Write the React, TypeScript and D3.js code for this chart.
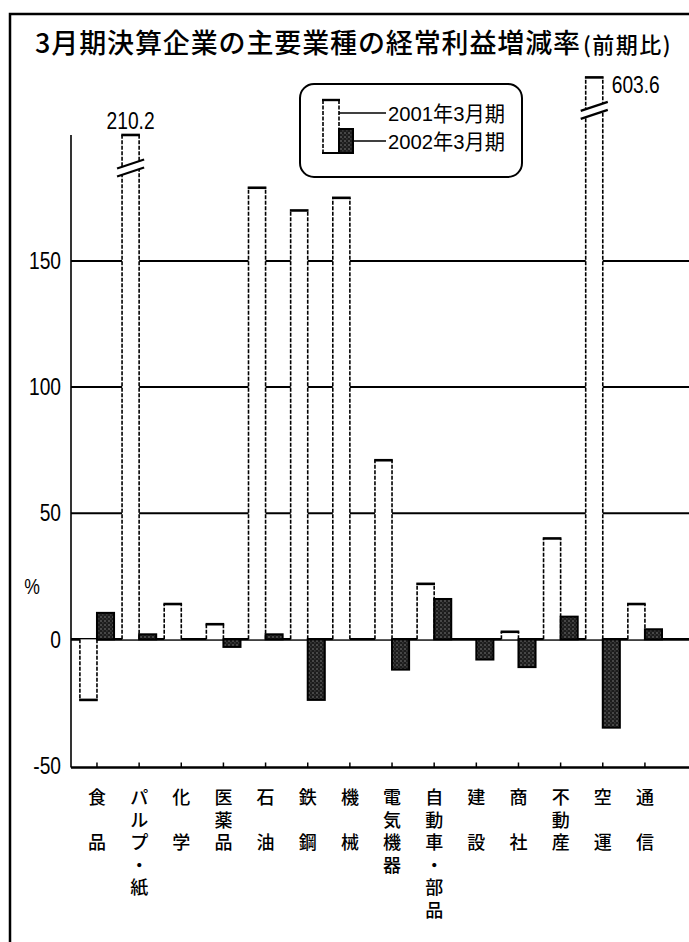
import React from "react";
import * as d3 from "d3";

// Industries (vertical labels along the bottom)
const categories = [
  "食品", "パルプ・紙", "化学", "医薬品", "石油", "鉄鋼", "機械",
  "電気機器", "自動車・部品", "建設", "商社", "不動産", "空運", "通信",
];
const seriesNames = ["2001年3月期", "2002年3月期"];
// Recurring-profit change vs. previous period (%)
const values2001 = [-24, 210.2, 14, 6, 179, 170, 175, 71, 22, 0, 3, 40, 603.6, 14];
const values2002 = [10.5, 2, 0, -3, 2, -24, 0, -12, 16, -8, -11, 9, -35, 4];
const yTickValues = [150, 100, 50, 0, -50];
const gridValues = [150, 100, 50];
const titleMain = "3月期決算企業の主要業種の経常利益増減率";
const titleSub = "(前期比)";
const unitLabel = "%";

const W = 689;
const H = 942;
const NUM_FONT = "'Liberation Sans', 'Noto Sans CJK JP', sans-serif";
const JP_FONT = "'Noto Sans CJK JP', sans-serif";
const NARROW = 0.8;

// Values beyond the break threshold are drawn on a compressed segment
const BREAK_AT = 200;

const x = d3
  .scaleBand<string>()
  .domain(categories)
  .range([75.9, 666])
  .paddingInner(0.19)
  .paddingOuter(0.095);
const xSeries = d3
  .scaleBand<string>()
  .domain(seriesNames)
  .range([0, x.bandwidth()]);

const y = d3
  .scaleLinear()
  .domain([-50, 190, 210, 620])
  .range([765.5, 160, 135, 75]);

const fmt = d3.format(".1f");

function NarrowText({
  x: tx,
  y: ty,
  anchor = "start",
  size = 24,
  baseline,
  children,
}: {
  x: number;
  y: number;
  anchor?: "start" | "middle" | "end";
  size?: number;
  baseline?: string;
  children: React.ReactNode;
}) {
  return (
    <text
      transform={`translate(${tx},${ty}) scale(${NARROW},1)`}
      textAnchor={anchor}
      dominantBaseline={baseline as any}
      fontFamily={NUM_FONT}
      fontSize={size}
    >
      {children}
    </text>
  );
}

function OpenBar({ x0, w, v }: { x0: number; w: number; v: number }) {
  if (v === 0) return null;
  const x1 = x0 + w;
  const yb = y(0);
  const ye = y(v);
  const top = Math.min(yb, ye);
  const h = Math.abs(yb - ye);
  const broken = v > BREAK_AT;
  const bY = ye + 33;
  const ext = 5;
  const half = (w + 2 * ext) / 6;
  return (
    <g>
      <rect x={x0} y={top} width={w} height={h} fill="#fff" />
      <line x1={x0} x2={x0} y1={yb} y2={ye} stroke="#000" strokeWidth={1.6} strokeDasharray="4 1.5" />
      <line x1={x1} x2={x1} y1={yb} y2={ye} stroke="#000" strokeWidth={1.6} strokeDasharray="4 1.5" />
      <line x1={x0 - 0.8} x2={x1 + 0.8} y1={ye} y2={ye} stroke="#000" strokeWidth={2.6} />
      {broken && (
        <g>
          <polygon
            points={[
              [x0 - ext, bY + 4 + half],
              [x1 + ext, bY + 4 - half],
              [x1 + ext, bY - 4 - half],
              [x0 - ext, bY - 4 + half],
            ]
              .map((p) => p.join(","))
              .join(" ")}
            fill="#fff"
          />
          <line x1={x0 - ext} y1={bY + 4 + half} x2={x1 + ext} y2={bY + 4 - half} stroke="#000" strokeWidth={2.2} />
          <line x1={x0 - ext} y1={bY - 4 + half} x2={x1 + ext} y2={bY - 4 - half} stroke="#000" strokeWidth={2.2} />
        </g>
      )}
    </g>
  );
}

function FilledBar({ x0, w, v }: { x0: number; w: number; v: number }) {
  if (v === 0) return null;
  const yb = y(0);
  const ye = y(v);
  return (
    <rect
      x={x0}
      y={Math.min(yb, ye)}
      width={w}
      height={Math.abs(yb - ye)}
      fill="url(#stipple)"
      stroke="#000"
      strokeWidth={2}
    />
  );
}

// Two-character names are spread over the first and third rows
function labelRows(name: string): { ch: string; row: number }[] {
  const chars = Array.from(name);
  if (chars.length === 2) return [{ ch: chars[0], row: 0 }, { ch: chars[1], row: 2 }];
  return chars.map((ch, i) => ({ ch, row: i }));
}

export default function App() {
  const bw = xSeries.bandwidth();
  const plotLeft = 71;
  const plotRight = W;
  const axisBottom = y(-50) + 2;

  return (
    <svg
      width={W}
      height={H}
      viewBox={`0 0 ${W} ${H}`}
      style={{ position: "absolute", left: 0, top: 0, background: "#fff" }}
    >
      <defs>
        <pattern id="stipple" width="4" height="4" patternUnits="userSpaceOnUse">
          <rect width="4" height="4" fill="#1c1c1c" />
          <rect x="0.5" y="0.5" width="1" height="1" fill="#fff" opacity="0.75" />
          <rect x="2.5" y="2.5" width="0.8" height="0.8" fill="#fff" opacity="0.5" />
        </pattern>
      </defs>

      {/* outer frame */}
      <path d={`M10,${H} V14 H${W}`} fill="none" stroke="#000" strokeWidth={2.5} />

      {/* title */}
      <text
        x={35}
        y={41}
        dominantBaseline="central"
        fontFamily={JP_FONT}
        fontWeight={500}
        fontSize={27}
        textLength={545}
        lengthAdjust="spacing"
      >
        {titleMain}
      </text>
      <text
        x={583}
        y={43}
        dominantBaseline="central"
        fontFamily={JP_FONT}
        fontWeight={500}
        fontSize={22}
        letterSpacing={1.5}
      >
        {titleSub}
      </text>

      {/* grid */}
      {gridValues.map((v) => (
        <line key={v} x1={plotLeft} x2={plotRight} y1={y(v)} y2={y(v)} stroke="#000" strokeWidth={2} />
      ))}
      <line x1={plotLeft} x2={plotRight} y1={y(0)} y2={y(0)} stroke="#000" strokeWidth={2.6} />
      <line x1={plotLeft} x2={plotRight} y1={axisBottom} y2={axisBottom} stroke="#000" strokeWidth={2.6} />
      <line x1={plotLeft} x2={plotLeft} y1={135} y2={axisBottom} stroke="#000" strokeWidth={1.6} />

      {/* y tick labels */}
      {yTickValues.map((v) => (
        <NarrowText key={v} x={61} y={y(v)} anchor="end" baseline="central">
          {v}
        </NarrowText>
      ))}
      <NarrowText x={32} y={586} anchor="middle" baseline="central" size={22}>
        {unitLabel}
      </NarrowText>

      {/* x ticks */}
      {categories.map((c) => {
        const cx = (x(c) as number) + x.bandwidth() / 2;
        return <line key={c} x1={cx} x2={cx} y1={axisBottom - 5} y2={axisBottom} stroke="#000" strokeWidth={1.5} />;
      })}

      {/* bars */}
      {categories.map((c, i) => {
        const bx = x(c) as number;
        const x01 = bx + (xSeries(seriesNames[0]) as number);
        const x02 = bx + (xSeries(seriesNames[1]) as number);
        return (
          <g key={c}>
            <OpenBar x0={x01} w={bw} v={values2001[i]} />
            <FilledBar x0={x02} w={bw} v={values2002[i]} />
          </g>
        );
      })}

      {/* values of broken bars */}
      {categories.map((c, i) => {
        const v = values2001[i];
        if (v <= BREAK_AT) return null;
        const bx = (x(c) as number) + (xSeries(seriesNames[0]) as number);
        const nearRight = i >= categories.length - 2;
        return nearRight ? (
          <NarrowText key={c} x={bx + bw + 9} y={y(v) + 16}>
            {fmt(v)}
          </NarrowText>
        ) : (
          <NarrowText key={c} x={bx + bw / 2} y={y(v) - 6} anchor="middle">
            {fmt(v)}
          </NarrowText>
        );
      })}

      {/* category labels, one character per row */}
      {categories.map((c) => {
        const cx = (x(c) as number) + x.bandwidth() / 2;
        return (
          <g key={c}>
            {labelRows(c).map(({ ch, row }, k) => (
              <text
                key={k}
                x={cx}
                y={796 + row * 22.5}
                textAnchor="middle"
                dominantBaseline="central"
                fontFamily={JP_FONT}
                fontWeight={500}
                fontSize={18}
              >
                {ch}
              </text>
            ))}
          </g>
        );
      })}

      {/* legend */}
      <g>
        <rect x={300} y={84} width={222} height={93} rx={14} fill="#fff" stroke="#000" strokeWidth={2} />
        <rect x={323} y={100} width={16} height={53} fill="#fff" />
        <line x1={323} x2={323} y1={100} y2={153} stroke="#000" strokeWidth={1.6} strokeDasharray="4 1.5" />
        <line x1={339} x2={339} y1={100} y2={153} stroke="#000" strokeWidth={1.6} strokeDasharray="4 1.5" />
        <line x1={322} x2={340} y1={100} y2={100} stroke="#000" strokeWidth={2.4} />
        <line x1={322} x2={339} y1={153} y2={153} stroke="#000" strokeWidth={2} />
        <rect x={339} y={129} width={14} height={24} fill="url(#stipple)" stroke="#000" strokeWidth={2} />
        <line x1={339} x2={386} y1={113} y2={113} stroke="#000" strokeWidth={1.6} />
        <line x1={353} x2={386} y1={141} y2={141} stroke="#000" strokeWidth={1.6} />
        {seriesNames.map((s, i) => (
          <text
            key={s}
            x={388}
            y={113 + i * 28}
            dominantBaseline="central"
            fontFamily={NUM_FONT}
            fontSize={21}
            textLength={117}
            lengthAdjust="spacingAndGlyphs"
          >
            {s}
          </text>
        ))}
      </g>
    </svg>
  );
}
